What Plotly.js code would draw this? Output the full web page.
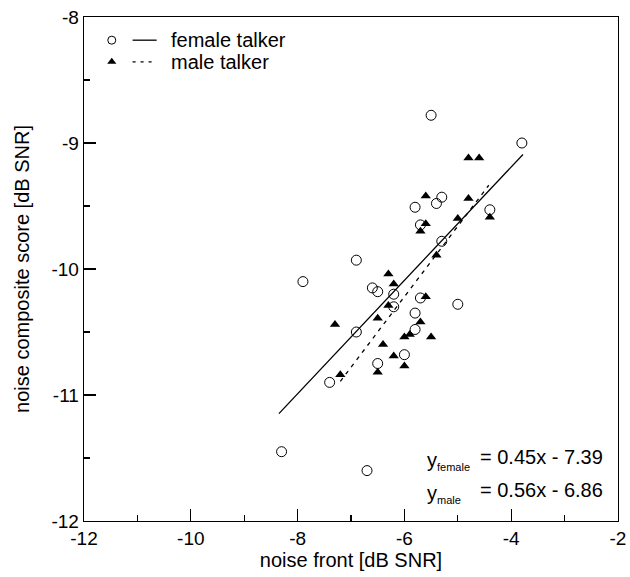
<!DOCTYPE html>
<html>
<head>
<meta charset="utf-8">
<script src="https://cdn.plot.ly/plotly-3.0.1.min.js"></script>
<style>html,body{margin:0;padding:0;background:#fff;}#chart{width:630px;height:577px;}</style>
</head>
<body>
<div id="chart"></div>
<script>
// Female talker (open circles)
const femaleX = [-5.5, -3.8, -5.3, -5.4, -5.8, -4.4, -5.7, -5.3, -6.9, -7.9, -6.6, -6.5, -6.2, -5.7, -5.0, -6.2, -5.8, -5.8, -6.9, -6.0, -6.5, -7.4, -8.3, -6.7];
const femaleY = [-8.78, -9.00, -9.43, -9.48, -9.51, -9.53, -9.65, -9.78, -9.93, -10.10, -10.15, -10.18, -10.20, -10.23, -10.28, -10.30, -10.35, -10.48, -10.50, -10.68, -10.75, -10.90, -11.45, -11.60];
// Male talker (filled triangles)
const maleX = [-4.8, -4.6, -5.6, -4.8, -4.4, -5.0, -5.6, -5.7, -5.4, -6.3, -6.2, -5.6, -6.3, -6.5, -5.7, -7.3, -6.0, -5.9, -5.5, -6.4, -6.2, -6.0, -6.5, -7.2];
const maleY = [-9.12, -9.12, -9.42, -9.44, -9.59, -9.60, -9.64, -9.70, -9.89, -10.04, -10.12, -10.22, -10.29, -10.39, -10.42, -10.44, -10.54, -10.52, -10.54, -10.60, -10.69, -10.77, -10.82, -10.84];
// Regression fits
const femaleFit = {slope: 0.45, intercept: -7.39, xRange: [-8.35, -3.78]};
const maleFit = {slope: 0.56, intercept: -6.86, xRange: [-7.2, -4.42]};
const seriesNames = ["female talker", "male talker"];
const fitLabels = ["female", "male"];
const xTicks = [-12, -10, -8, -6, -4, -2];
const yTicks = [-12, -11, -10, -9, -8];

const fitY = f => f.xRange.map(x => f.slope * x + f.intercept);
const fam = "Liberation Sans, Arial, sans-serif";
const font = {family: fam, size: 20, color: "#000"};
const tickFont = {family: fam, size: 19, color: "#000"};
const eq = f => "= " + f.slope.toFixed(2) + "x - " + Math.abs(f.intercept).toFixed(2);
const yLab = s => "y<sub><span style=\"font-size:11px\">" + s + "</span></sub>";

const traces = [
  {x: femaleFit.xRange, y: fitY(femaleFit), mode: "lines", line: {color: "#000", width: 1.3}, hoverinfo: "skip"},
  {x: maleFit.xRange, y: fitY(maleFit), mode: "lines", line: {color: "#000", width: 1.3, dash: "4px,5px"}, hoverinfo: "skip"},
  {x: femaleX, y: femaleY, mode: "markers", name: seriesNames[0],
   marker: {symbol: "circle-open", size: 10, color: "#000", line: {width: 1, color: "#000"}}},
  {x: maleX, y: maleY, mode: "markers", name: seriesNames[1],
   marker: {symbol: "triangle-up", size: 9, color: "#000"}},
  // legend symbols (overlay unit axes)
  {x: [0.052], y: [0.954], xaxis: "x2", yaxis: "y2", mode: "markers",
   marker: {symbol: "circle-open", size: 8, color: "#000", line: {width: 1, color: "#000"}}},
  {x: [0.091, 0.136], y: [0.954, 0.954], xaxis: "x2", yaxis: "y2", mode: "lines", line: {color: "#000", width: 1.3}},
  {x: [0.052], y: [0.911], xaxis: "x2", yaxis: "y2", mode: "markers",
   marker: {symbol: "triangle-up", size: 8, color: "#000"}},
  {x: [0.091, 0.136], y: [0.911, 0.911], xaxis: "x2", yaxis: "y2", mode: "lines", line: {color: "#000", width: 1.3, dash: "3px,5px"}}
];

const layout = {
  width: 630, height: 577,
  margin: {l: 84, r: 12, t: 17, b: 56},
  paper_bgcolor: "#fff", plot_bgcolor: "#fff",
  showlegend: false,
  font: font,
  xaxis: {
    range: [-12, -2], tickvals: xTicks, ticktext: xTicks.map(String),
    showgrid: false, zeroline: false, showline: true, mirror: true, linecolor: "#000", linewidth: 1.3,
    ticks: "inside", ticklen: 12, tickwidth: 1.3, tickcolor: "#000",
    minor: {dtick: 1, tick0: -12, ticks: "inside", ticklen: 6, tickwidth: 1.3, tickcolor: "#000", showgrid: false},
    tickfont: tickFont,
    title: {text: "noise front [dB SNR]", font: font, standoff: 4}
  },
  yaxis: {
    range: [-12, -8], tickvals: yTicks, ticktext: yTicks.map(String),
    showgrid: false, zeroline: false, showline: true, mirror: true, linecolor: "#000", linewidth: 1.3,
    ticks: "inside", ticklen: 12, tickwidth: 1.3, tickcolor: "#000",
    minor: {dtick: 0.5, tick0: -12, ticks: "inside", ticklen: 6, tickwidth: 1.3, tickcolor: "#000", showgrid: false},
    tickfont: tickFont,
    title: {text: "noise composite score [dB SNR]", font: font, standoff: 16}
  },
  xaxis2: {overlaying: "x", range: [0, 1], visible: false, fixedrange: true},
  yaxis2: {overlaying: "y", range: [0, 1], visible: false, fixedrange: true},
  annotations: [
    {xref: "x2", yref: "y2", x: 0.159, y: 0.954, xanchor: "left", yanchor: "middle", showarrow: false, text: seriesNames[0], font: font},
    {xref: "x2", yref: "y2", x: 0.159, y: 0.911, xanchor: "left", yanchor: "middle", showarrow: false, text: seriesNames[1], font: font},
    {xref: "x2", yref: "y2", x: 0.6386, y: 0.127, xanchor: "left", yanchor: "middle", yshift: -4, showarrow: false, text: yLab(fitLabels[0]), font: font},
    {xref: "x2", yref: "y2", x: 0.9757, y: 0.127, xanchor: "right", yanchor: "middle", showarrow: false, text: eq(femaleFit), font: font},
    {xref: "x2", yref: "y2", x: 0.6386, y: 0.0615, xanchor: "left", yanchor: "middle", yshift: -4, showarrow: false, text: yLab(fitLabels[1]), font: font},
    {xref: "x2", yref: "y2", x: 0.9757, y: 0.0615, xanchor: "right", yanchor: "middle", showarrow: false, text: eq(maleFit), font: font}
  ]
};

Plotly.newPlot("chart", traces, layout, {staticPlot: true, displayModeBar: false});
</script>
</body>
</html>
